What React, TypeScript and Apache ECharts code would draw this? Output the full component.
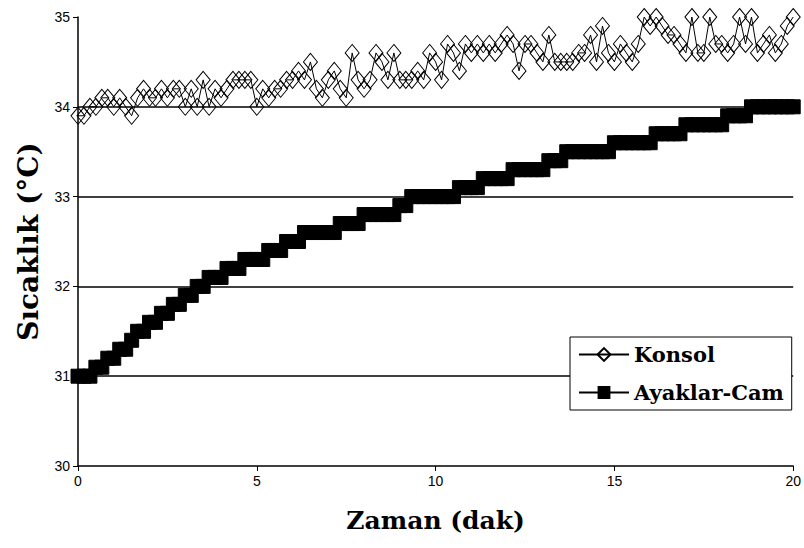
import React, { useEffect, useRef } from "react";
import * as echarts from "echarts";

// sampling: one reading every 10 seconds (1/6 min), 0..20 min
const sampleCount = 121;
const sampleStepMin = 1 / 6;
const timeMin: number[] = Array.from({ length: sampleCount }, (_, i) => +(i * sampleStepMin).toFixed(4));

const konsol: number[] = [
  33.9, 33.9, 34.0, 34.0, 34.1, 34.1, 34.0, 34.1, 34.0, 33.9,
  34.1, 34.2, 34.1, 34.1, 34.2, 34.1, 34.2, 34.2, 34.0, 34.2,
  34.0, 34.3, 34.0, 34.2, 34.1, 34.2, 34.3, 34.3, 34.3, 34.3,
  34.0, 34.2, 34.1, 34.2, 34.2, 34.3, 34.3, 34.4, 34.3, 34.5,
  34.2, 34.1, 34.3, 34.4, 34.2, 34.1, 34.6, 34.3, 34.2, 34.3,
  34.6, 34.5, 34.3, 34.6, 34.3, 34.3, 34.3, 34.4, 34.3, 34.6,
  34.5, 34.3, 34.7, 34.6, 34.4, 34.7, 34.6, 34.7, 34.6, 34.7,
  34.6, 34.7, 34.8, 34.7, 34.4, 34.7, 34.7, 34.6, 34.5, 34.8,
  34.5, 34.5, 34.5, 34.5, 34.6, 34.6, 34.8, 34.5, 34.9, 34.6,
  34.5, 34.7, 34.6, 34.5, 34.7, 35.0, 34.9, 35.0, 34.9, 34.8,
  34.8, 34.7, 34.6, 35.0, 34.6, 34.6, 35.0, 34.7, 34.7, 34.6,
  34.7, 35.0, 34.7, 35.0, 34.6, 34.7, 34.8, 34.6, 34.7, 34.9,
  35.0,
];

const ayaklarCam: number[] = [
  31.0, 31.0, 31.0, 31.1, 31.1, 31.2, 31.2, 31.3, 31.3, 31.4,
  31.5, 31.5, 31.6, 31.6, 31.7, 31.7, 31.8, 31.8, 31.9, 31.9,
  32.0, 32.0, 32.1, 32.1, 32.1, 32.2, 32.2, 32.2, 32.3, 32.3,
  32.3, 32.3, 32.4, 32.4, 32.4, 32.5, 32.5, 32.5, 32.6, 32.6,
  32.6, 32.6, 32.6, 32.6, 32.7, 32.7, 32.7, 32.7, 32.8, 32.8,
  32.8, 32.8, 32.8, 32.8, 32.9, 32.9, 33.0, 33.0, 33.0, 33.0,
  33.0, 33.0, 33.0, 33.0, 33.1, 33.1, 33.1, 33.1, 33.2, 33.2,
  33.2, 33.2, 33.2, 33.3, 33.3, 33.3, 33.3, 33.3, 33.3, 33.4,
  33.4, 33.4, 33.5, 33.5, 33.5, 33.5, 33.5, 33.5, 33.5, 33.5,
  33.6, 33.6, 33.6, 33.6, 33.6, 33.6, 33.6, 33.7, 33.7, 33.7,
  33.7, 33.7, 33.8, 33.8, 33.8, 33.8, 33.8, 33.8, 33.8, 33.9,
  33.9, 33.9, 33.9, 34.0, 34.0, 34.0, 34.0, 34.0, 34.0, 34.0,
  34.0,
];

const seriesNames = ["Konsol", "Ayaklar-Cam"];
const gridValues = [31, 32, 33, 34];
const xTitle = "Zaman (dak)";
const yTitle = "Sıcaklık (°C)";

export default function App() {
  const ref = useRef<HTMLDivElement>(null);
  useEffect(() => {
    if (!ref.current) return;
    const chart = echarts.init(ref.current, undefined, { renderer: "svg" });
    const tickFont = { fontFamily: "'Liberation Sans Narrow', 'Liberation Sans', Arial", fontSize: 14, color: "#000" };
    chart.setOption({
      animation: false,
      backgroundColor: "#fff",
      grid: { left: 78, right: 10, top: 17, bottom: 82, containLabel: false },
      xAxis: {
        type: "value",
        min: 0,
        max: 20,
        interval: 5,
        name: xTitle,
        nameLocation: "middle",
        nameGap: 42,
        nameTextStyle: { fontFamily: "'DejaVu Serif', 'Liberation Serif', serif", fontWeight: "bold", fontSize: 25, color: "#000" },
        axisLine: { show: true, onZero: false, lineStyle: { color: "#000", width: 1.5 } },
        axisTick: { show: true, length: 5, lineStyle: { color: "#000", width: 1 } },
        axisLabel: { ...tickFont, margin: 8 },
        splitLine: { show: false },
      },
      yAxis: {
        type: "value",
        min: 30,
        max: 35,
        interval: 1,
        name: yTitle,
        nameLocation: "middle",
        nameGap: 36,
        nameTextStyle: { fontFamily: "'DejaVu Serif', 'Liberation Serif', serif", fontWeight: "bold", fontSize: 28, color: "#000" },
        axisLine: { show: true, lineStyle: { color: "#000", width: 1.5 } },
        axisTick: { show: true, length: 5, lineStyle: { color: "#000", width: 1 } },
        axisLabel: { ...tickFont, margin: 8 },
        splitLine: { show: false },
      },
      legend: {
        left: 570,
        top: 337,
        orient: "vertical",
        backgroundColor: "#fff",
        borderColor: "#000",
        borderWidth: 1,
        padding: [7, 8, 7, 8],
        itemGap: 17,
        itemWidth: 50,
        itemHeight: 16,
        textStyle: { fontFamily: "'DejaVu Serif', 'Liberation Serif', serif", fontWeight: "bold", fontSize: 21, color: "#000" },
        data: seriesNames,
      },
      series: [
        {
          name: seriesNames[0],
          type: "line",
          data: timeMin.map((t, i) => [t, konsol[i]]),
          symbol: "diamond",
          symbolSize: [14, 17],
          showAllSymbol: true,
          lineStyle: { color: "#000", width: 1 },
          itemStyle: { color: "rgba(255,255,255,0)", borderColor: "#000", borderWidth: 1 },
          z: 3,
          markLine: {
            silent: true,
            symbol: "none",
            label: { show: false },
            lineStyle: { color: "#000", width: 1.5, type: "solid" },
            data: gridValues.map((v) => ({ yAxis: v })),
            z: 1,
          },
        },
        {
          name: seriesNames[1],
          type: "line",
          data: timeMin.map((t, i) => [t, ayaklarCam[i]]),
          symbol: "rect",
          symbolSize: 14,
          showAllSymbol: true,
          lineStyle: { color: "#000", width: 1 },
          itemStyle: { color: "#000", borderColor: "#000" },
          z: 3,
        },
      ],
    });
    return () => chart.dispose();
  }, []);
  return <div ref={ref} style={{ width: 804, height: 548, position: "absolute", left: 0, top: 0 }} />;
}
